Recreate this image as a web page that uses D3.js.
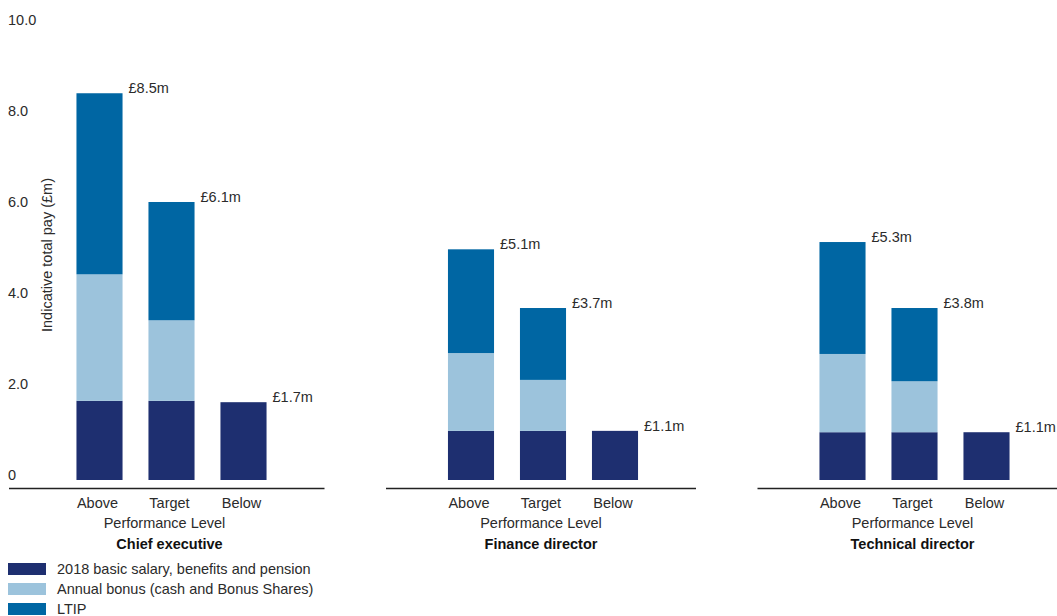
<!DOCTYPE html>
<html>
<head>
<meta charset="utf-8">
<script src="https://cdn.jsdelivr.net/npm/d3@7"></script>
<style>
  body { margin: 0; background: #fff; }
  text { font-family: "Liberation Sans", Arial, sans-serif; fill: #2b2b2b; }
</style>
</head>
<body>
<svg id="chart"></svg>
<script>
const roles = ["Chief executive", "Finance director", "Technical director"]
const levels = ["Above", "Target", "Below"]
const seriesNames = ["2018 basic salary, benefits and pension", "Annual bonus (cash and Bonus Shares)", "LTIP"]
// values (£m)
const salary = [[1.74, 1.74, 1.71], [1.08, 1.08, 1.08], [1.05, 1.05, 1.05]]
const bonus = [[2.78, 1.77, 0], [1.71, 1.12, 0], [1.72, 1.12, 0]]
const ltip = [[3.98, 2.6, 0], [2.28, 1.58, 0], [2.46, 1.61, 0]]
const totalLabels = [["£8.5m", "£6.1m", "£1.7m"], ["£5.1m", "£3.7m", "£1.1m"], ["£5.3m", "£3.8m", "£1.1m"]]
const yTicks = [0, 2, 4, 6, 8, 10]

const width = 1057, height = 616
const colors = ["#1e2f70", "#9cc3dc", "#0066a3"]

const svg = d3.select("#chart").attr("width", width).attr("height", height)

const y = d3.scaleLinear().domain([0, 10]).range([480, 25])
const panelX = d3.scalePoint().domain(roles).range([171.5, 914.5])

// y ticks, labels sit on the value
svg.append("g").selectAll("text").data(yTicks).join("text")
  .attr("x", 8).attr("y", d => y(d))
  .style("font-size", "14.5px")
  .text(d => d === 0 ? "0" : d3.format(".1f")(d))

svg.append("text")
  .attr("transform", "translate(52,255) rotate(-90)")
  .attr("text-anchor", "middle")
  .style("font-size", "14.5px")
  .text("Indicative total pay (£m)")

roles.forEach((role, r) => {
  const cx = panelX(role)
  const x = d3.scaleBand().domain(levels).range([cx - 108, cx + 108]).paddingInner(0.36).paddingOuter(0.18)
  const g = svg.append("g")

  const rows = levels.map((lvl, i) => ({lvl, salary: salary[r][i], bonus: bonus[r][i], ltip: ltip[r][i], label: totalLabels[r][i]}))
  const stack = d3.stack().keys(["salary", "bonus", "ltip"])(rows)

  g.selectAll("g.layer").data(stack).join("g")
    .attr("fill", (d, i) => colors[i])
    .selectAll("rect").data(d => d.filter(p => p[1] > p[0])).join("rect")
      .attr("x", d => x(d.data.lvl))
      .attr("width", x.bandwidth())
      .attr("y", d => y(d[1]))
      .attr("height", d => y(d[0]) - y(d[1]))

  g.selectAll("text.total").data(rows).join("text")
    .attr("class", "total")
    .attr("x", d => x(d.lvl) + x.bandwidth() + 6)
    .attr("y", d => y(d.salary + d.bonus + d.ltip))
    .style("font-size", "14.5px")
    .text(d => d.label)

  g.append("line")
    .attr("x1", r === 0 ? 9 : cx - 157).attr("x2", cx + 153)
    .attr("y1", 488.5).attr("y2", 488.5)
    .attr("stroke", "#222").attr("stroke-width", 1.3)

  g.selectAll("text.cat").data(levels).join("text")
    .attr("class", "cat")
    .attr("x", d => x(d) + x.bandwidth() / 2 - 2)
    .attr("y", 508)
    .attr("text-anchor", "middle")
    .style("font-size", "14.5px")
    .text(d => d)

  g.append("text")
    .attr("x", r === 0 ? cx - 7 : cx - 2).attr("y", 528)
    .attr("text-anchor", "middle")
    .style("font-size", "14.5px")
    .text("Performance Level")

  g.append("text")
    .attr("x", cx - 2).attr("y", 549)
    .attr("text-anchor", "middle")
    .style("font-size", "14.5px").style("font-weight", "bold")
    .style("fill", "#111")
    .text(role)
})

const legend = svg.append("g").selectAll("g").data(seriesNames).join("g")
  .attr("transform", (d, i) => `translate(8,${563 + i * 20})`)
legend.append("rect").attr("width", 38).attr("height", 12).attr("fill", (d, i) => colors[i])
legend.append("text").attr("x", 49).attr("y", 11).style("font-size", "14.5px").text(d => d)
</script>
</body>
</html>
